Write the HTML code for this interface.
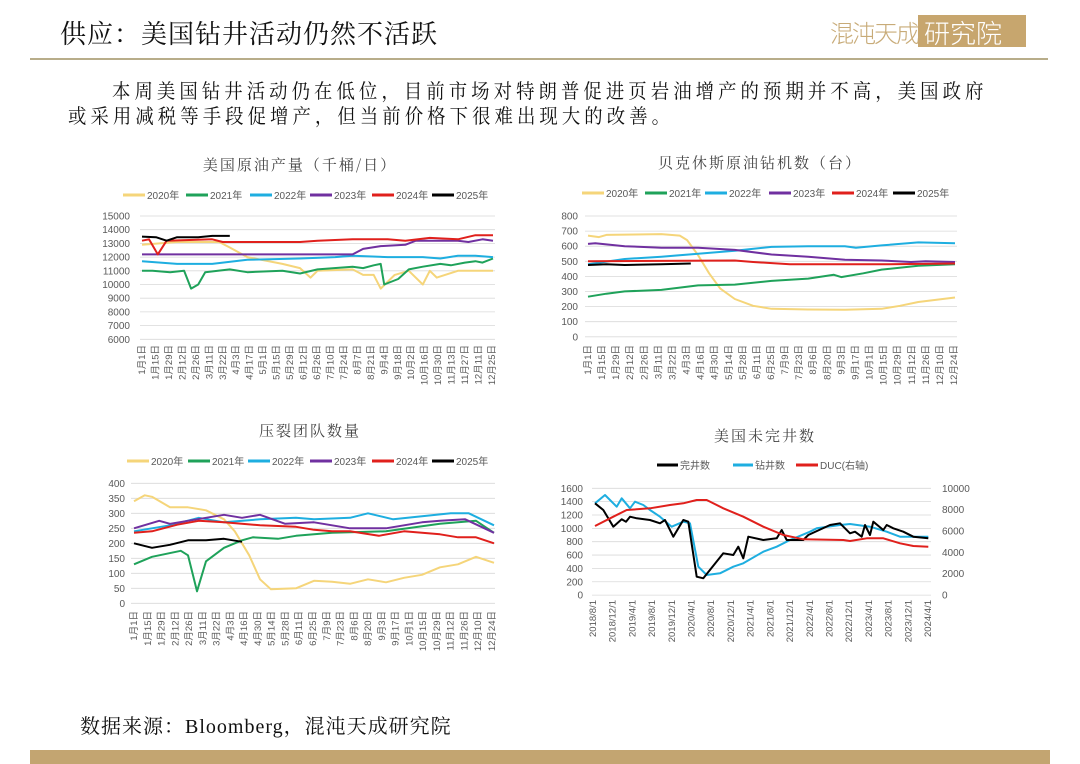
<!DOCTYPE html>
<html><head><meta charset="utf-8"><style>
body{margin:0;width:1080px;height:764px;background:#fff;overflow:hidden;position:relative;font-family:"Liberation Serif","Noto Serif CJK SC",serif}
.t{position:absolute;white-space:nowrap;color:#111}
</style></head><body>
<div class="t" style="left:60px;top:14px;font-size:26px;letter-spacing:1px">供应：美国钻井活动仍然不活跃</div>
<div class="t" style="left:830px;top:14px;font-size:24px;color:#c8ab78;font-family:'Noto Sans CJK SC',sans-serif;font-weight:300;letter-spacing:-2px">混沌天成</div>
<div style="position:absolute;left:918px;top:15px;width:108px;height:32px;background:#c7a66e"></div>
<div class="t" style="left:924px;top:14px;font-size:26px;color:#fff;font-family:'Noto Sans CJK SC',sans-serif;font-weight:300">研究院</div>
<div style="position:absolute;left:30px;top:58px;width:1018px;height:2px;background:#b8ad8a"></div>
<div class="t" style="left:112px;top:75px;font-size:20px;letter-spacing:4.4px;transform:scale(0.92,1);transform-origin:0 0">本周美国钻井活动仍在低位，目前市场对特朗普促进页岩油增产的预期并不高，美国政府</div>
<div class="t" style="left:68px;top:100px;font-size:20px;letter-spacing:4.4px;transform:scale(0.92,1);transform-origin:0 0">或采用减税等手段促增产，但当前价格下很难出现大的改善。</div>
<div class="t" style="left:80px;top:710px;font-size:20px;letter-spacing:1px">数据来源：Bloomberg，混沌天成研究院</div>
<div style="position:absolute;left:30px;top:750px;width:1020px;height:14px;background:#c3a571"></div>
<svg id="s" width="1080" height="764" style="position:absolute;left:0;top:0" xmlns="http://www.w3.org/2000/svg"></svg>
<script>
const S=document.getElementById('s');let h='';
const Y='#f5d57a',G='#1fa25a',C='#1eaee0',P='#7030a0',R='#e0201c',K='#000';
function grid(x0,x1,ys,labs,lx,anchor){ys.forEach((y,i)=>{h+=`<line x1="${x0}" x2="${x1}" y1="${y}" y2="${y}" stroke="#d9d9d9" stroke-width="0.8"/>`;h+=`<text x="${lx}" y="${y+3.5}" font-size="10" fill="#595959" text-anchor="${anchor||'end'}" font-family="Liberation Sans,sans-serif">${labs[i]}</text>`;});}
function xl(x0,x1,y,labs){labs.forEach((l,i)=>{const x=x0+(x1-x0)*i/(labs.length-1)+3;h+=`<text transform="translate(${x},${y}) rotate(-90)" font-size="9.5" fill="#595959" text-anchor="end" font-family="Liberation Sans,'Noto Sans CJK SC',sans-serif">${l}</text>`;});}
function line(pts,col,w){h+=`<polyline fill="none" stroke="${col}" stroke-width="${w||2}" stroke-linejoin="round" points="${pts.map(p=>p[0].toFixed(1)+','+p[1].toFixed(1)).join(' ')}"/>`;}
function ser(d,x0,x1,ytop,ybot,vmax,vmin,col,w){line(d.map(p=>[x0+(x1-x0)*p[0],ybot-(p[1]-vmin)/(vmax-vmin)*(ybot-ytop)]),col,w);}
function title(x,y,t){h+=`<text x="${x}" y="${y}" font-size="15" fill="#444" text-anchor="middle" font-family="'Noto Serif CJK SC',serif" letter-spacing="2">${t}</text>`;}
function leg(items,y){items.forEach(([x,c,t,len])=>{h+=`<line x1="${x}" x2="${x+(len||22)}" y1="${y}" y2="${y}" stroke="${c}" stroke-width="3"/><text x="${x+(len||22)+2}" y="${y+4}" font-size="10" fill="#595959" font-family="Liberation Sans,'Noto Sans CJK SC',sans-serif">${t}</text>`;});}
const yrs=(xs)=>[[xs[0],Y,'2020年'],[xs[1],G,'2021年'],[xs[2],C,'2022年'],[xs[3],P,'2023年'],[xs[4],R,'2024年'],[xs[5],K,'2025年']];
const L1=['1月1日','1月15日','1月29日','2月12日','2月26日','3月11日','3月22日','4月3日','4月17日','5月1日','5月15日','5月29日','6月12日','6月26日','7月10日','7月24日','8月7日','8月21日','9月4日','9月18日','10月2日','10月16日','10月30日','11月13日','11月27日','12月11日','12月25日'];
const L2=['1月1日','1月15日','1月29日','2月12日','2月26日','3月11日','3月22日','4月3日','4月16日','4月30日','5月14日','5月28日','6月11日','6月25日','7月9日','7月23日','8月6日','8月20日','9月3日','9月17日','10月1日','10月15日','10月29日','11月12日','11月26日','12月10日','12月24日'];
// chart1
title(300,170,'美国原油产量（千桶/日）');leg(yrs([123,186,250,310,372,432]),195);
{const ys=[],lb=[];for(let i=0;i<10;i++){ys.push(216+i*13.7);lb.push(15000-i*1000);}grid(140,495,ys,lb,130);xl(142,492,345,L1);
const a=[142,493,216,339.3,15000,6000];
ser([[0,12900],[.1,13100],[.22,13100],[.25,12700],[.3,12000],[.4,11500],[.45,11200],[.48,10500],[.5,11000],[.6,11100],[.63,10700],[.66,10700],[.68,9700],[.72,10700],[.76,11000],[.8,10000],[.82,11000],[.84,10500],[.9,11000],[1,11000]],...a,Y);
ser([[0,11000],[.03,11000],[.08,10900],[.12,11000],[.14,9700],[.16,10000],[.18,10900],[.25,11100],[.3,10900],[.4,11000],[.45,10800],[.5,11100],[.6,11300],[.63,11200],[.66,11400],[.68,11500],[.69,10000],[.73,10400],[.76,11100],[.8,11300],[.85,11500],[.88,11400],[.92,11600],[.95,11700],[.97,11600],[1,11900]],...a,G);
ser([[0,11700],[.1,11500],[.2,11500],[.3,11800],[.45,11900],[.55,12000],[.6,12100],[.7,12000],[.8,12000],[.85,11900],[.9,12100],[.95,12100],[1,12000]],...a,C);
ser([[0,12200],[.6,12200],[.63,12600],[.68,12800],[.75,12900],[.78,13200],[.9,13200],[.93,13100],[.97,13300],[1,13200]],...a,P);
ser([[0,13200],[.02,13300],[.045,12200],[.07,13200],[.2,13300],[.23,13100],[.45,13100],[.5,13200],[.6,13300],[.7,13300],[.75,13200],[.82,13400],[.9,13300],[.95,13600],[1,13600]],...a,R);
ser([[0,13500],[.04,13450],[.07,13200],[.1,13450],[.16,13450],[.2,13550],[.25,13550]],...a,K);}
// chart2
title(760,168,'贝克休斯原油钻机数（台）');leg(yrs([582,645,705,769,832,893]),193);
{const ys=[],lb=[];for(let i=0;i<9;i++){ys.push(216+i*15.1);lb.push(800-i*100);}grid(585,957,ys,lb,578);xl(588,954,345,L2);
const a=[588,955,216,336.7,800,0];
ser([[0,670],[.03,660],[.05,675],[.2,680],[.25,670],[.27,640],[.3,540],[.33,420],[.36,320],[.4,250],[.45,205],[.5,185],[.6,180],[.7,178],[.8,185],[.85,205],[.9,230],[.95,245],[1,260]],...a,Y);
ser([[0,265],[.05,285],[.1,300],[.2,310],[.3,340],[.4,345],[.5,370],[.6,385],[.67,410],[.69,395],[.75,420],[.8,445],[.9,470],[1,480]],...a,G);
ser([[0,480],[.1,515],[.2,530],[.3,550],[.4,570],[.5,595],[.6,600],[.7,600],[.73,590],[.8,605],[.9,625],[1,620]],...a,C);
ser([[0,615],[.02,620],[.1,600],[.2,590],[.3,590],[.4,575],[.5,545],[.6,530],[.7,510],[.8,505],[.88,495],[.92,500],[1,495]],...a,P);
ser([[0,500],[.4,505],[.45,495],[.55,480],[.65,480],[.8,480],[1,485]],...a,R);
ser([[0,475],[.05,480],[.1,475],[.2,480],[.28,485]],...a,K);}
// chart3
title(310,436,'压裂团队数量');leg(yrs([127,188,248,310,372,432]),461);
{const ys=[],lb=[];for(let i=0;i<9;i++){ys.push(483.3+i*15);lb.push(400-i*50);}grid(131,495,ys,lb,125);xl(134,492,611,L2);
const a=[134,494,483.3,603.3,400,0];
ser([[0,340],[.03,360],[.05,355],[.1,320],[.15,320],[.2,310],[.25,280],[.28,240],[.32,160],[.35,80],[.38,47],[.45,50],[.5,75],[.55,72],[.6,65],[.65,80],[.7,70],[.75,85],[.8,95],[.85,120],[.9,130],[.95,155],[1,135]],...a,Y);
ser([[0,130],[.05,155],[.13,175],[.15,160],[.175,40],[.2,140],[.25,185],[.3,210],[.33,220],[.4,215],[.45,225],[.55,235],[.7,240],[.85,265],[.95,275],[1,235]],...a,G);
ser([[0,240],[.1,260],[.18,285],[.25,270],[.35,280],[.45,285],[.5,280],[.6,285],[.65,300],[.72,280],[.8,290],[.88,300],[.93,300],[1,260]],...a,C);
ser([[0,250],[.07,275],[.1,265],[.2,285],[.25,295],[.3,285],[.35,295],[.42,265],[.5,270],[.55,260],[.6,250],[.7,250],[.8,270],[.85,275],[.92,280],[1,235]],...a,P);
ser([[0,235],[.05,240],[.12,262],[.18,275],[.25,270],[.35,260],[.45,255],[.5,245],[.55,240],[.6,240],[.68,225],[.75,240],[.8,235],[.85,230],[.9,220],[.95,220],[1,200]],...a,R);
ser([[0,200],[.05,185],[.1,195],[.15,210],[.2,210],[.25,215],[.3,205]],...a,K);}
// chart4
title(765,441,'美国未完井数');
leg([[657,K,'完井数',21],[733,C,'钻井数',20],[796,R,'DUC(右轴)',22]],465);
{const ys=[],lb=[];for(let i=0;i<9;i++){ys.push(488.3+i*13.35);lb.push(1600-i*200);}grid(592,931,ys,lb,583);
for(let i=0;i<6;i++){h+=`<text x="942" y="${488.3+i*21.36+3.5}" font-size="10" fill="#595959" font-family="Liberation Sans,sans-serif">${10000-i*2000}</text>`;}
const L4=[];let yy=2018,mm=8;for(let i=0;i<18;i++){L4.push(yy+'/'+mm+'/1');mm+=4;if(mm>12){mm-=12;yy++;}}xl(593,928,600,L4);
const z=(arr,col)=>line(arr.map(p=>[550+p[0]/3,420+p[1]/3]),col,2);
z([[135,250],[165,225],[200,260],[215,235],[240,265],[255,245],[280,255],[300,270],[330,290],[365,320],[400,305],[420,310],[445,440],[470,465],[510,460],[550,440],[580,430],[640,395],[680,380],[720,360],[780,335],[800,325],[870,315],[900,312],[960,320],[1010,335],[1050,350],[1135,350]],C);
z([[135,250],[160,270],[190,320],[215,298],[228,305],[240,290],[260,295],[300,300],[330,310],[345,300],[370,350],[400,300],[415,305],[440,470],[460,475],[520,400],[550,405],[565,380],[580,415],[595,350],[640,360],[680,355],[695,330],[710,360],[760,360],[775,345],[840,315],[870,310],[900,340],[915,335],[935,350],[945,315],[960,345],[970,305],[1000,330],[1010,315],[1030,325],[1060,335],[1090,350],[1135,355]],K);
z([[135,318],[190,290],[230,270],[300,265],[360,255],[400,250],[440,240],[470,240],[520,265],[580,290],[640,320],[700,345],[760,358],[880,360],[900,363],[950,355],[1000,355],[1050,370],[1090,378],[1135,380]],R);}
S.innerHTML=h;
</script>
</body></html>
